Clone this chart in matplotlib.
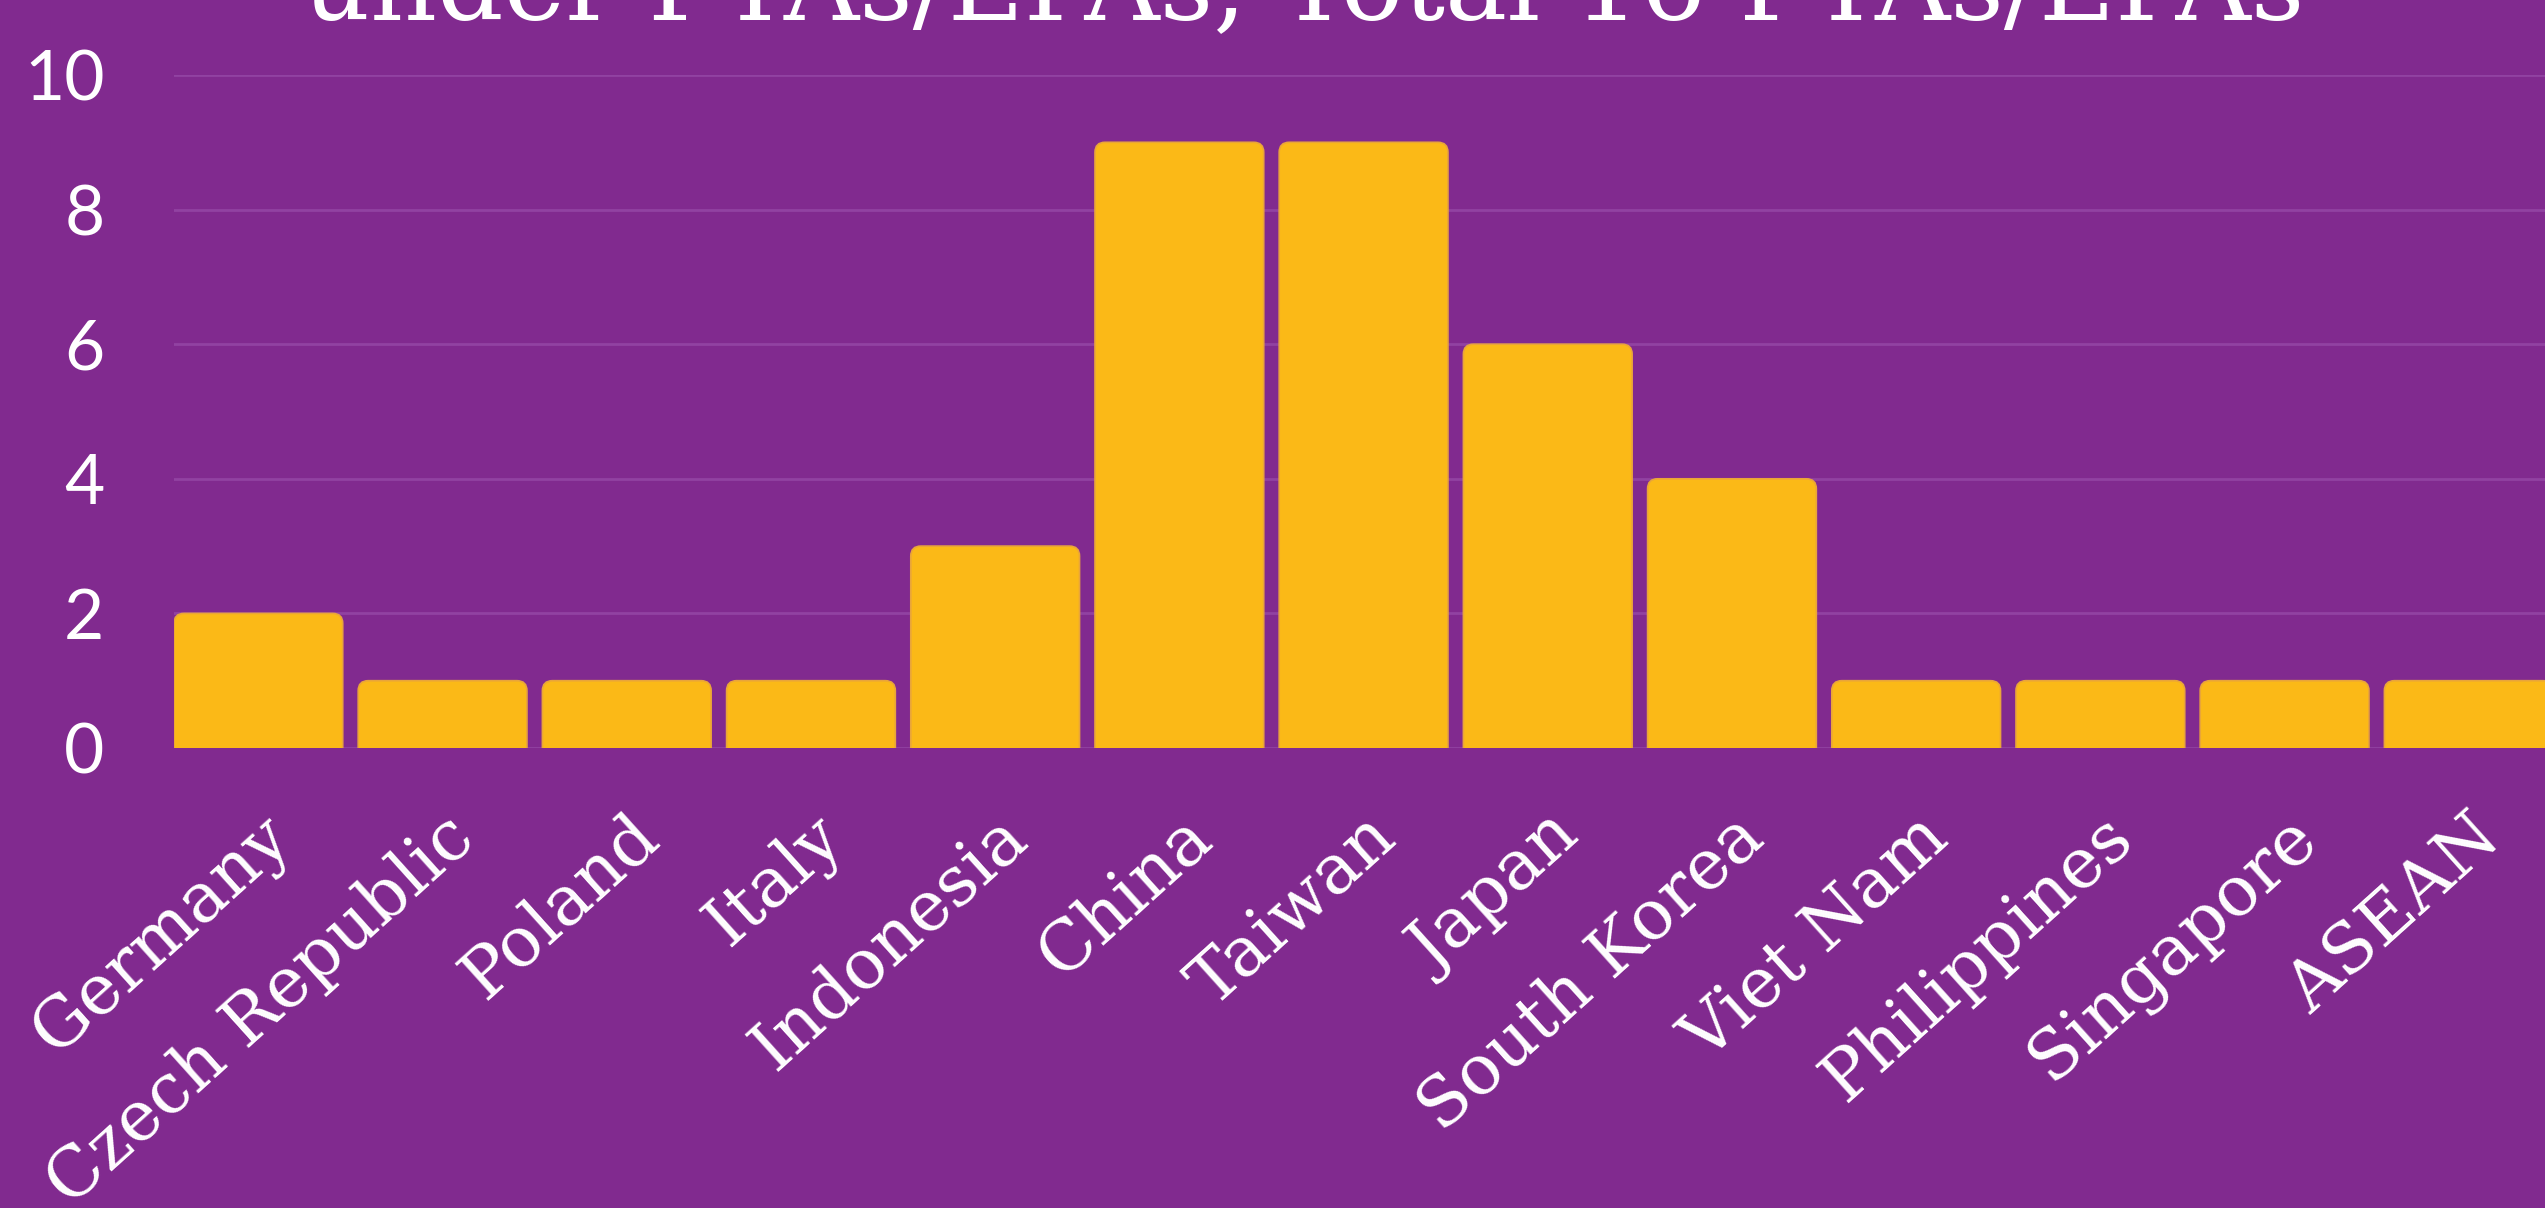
import matplotlib
matplotlib.use('Agg')
import matplotlib.pyplot as plt
import matplotlib.transforms as mtransforms
from matplotlib.patches import FancyBboxPatch

countries = ['Germany', 'Czech Republic', 'Poland', 'Italy', 'Indonesia', 'China',
             'Taiwan', 'Japan', 'South Korea', 'Viet Nam', 'Philippines',
             'Singapore', 'ASEAN']
counts = [2, 1, 1, 1, 3, 9, 9, 6, 4, 1, 1, 1, 1]
yticks = [0, 2, 4, 6, 8, 10]
title = 'under FTAs/EPAs, Total 16 FTAs/EPAs'

BG = '#812A8F'
BAR = '#FBB917'
GRID = '#9142A2'

W, H, DPI = 2545, 1208, 100
fig = plt.figure(figsize=(W / DPI, H / DPI), dpi=DPI, facecolor=BG)

# axes placed in pixels, right side runs off the canvas like the original
left, bottom, top = 174, 748, 75
ax = fig.add_axes([left / W, 1 - bottom / H, (W - left) / W, (bottom - top) / H])
ax.set_facecolor(BG)

bw = 0.916
slot = 184.2
ax.set_xlim(-bw / 2, -bw / 2 + (W - left) / slot)
ax.set_ylim(0, 10)

bars = ax.bar(range(len(counts)), counts, width=bw, color=BAR)
# swap plain rectangles for ones with rounded top corners
px_x = slot
px_y = (bottom - top) / 10
r = 10 / px_x
for b in bars:
    x0, w, h = b.get_x(), b.get_width(), b.get_height()
    b.remove()
    p = FancyBboxPatch((x0, -0.3), w, h + 0.3,
                       boxstyle='round,pad=0,rounding_size=%f' % r,
                       mutation_aspect=px_x / px_y,
                       fc=BAR, ec='#E9A53A', lw=1.2, zorder=3)
    ax.add_patch(p)

ax.set_yticks(yticks)
ax.set_yticklabels([str(t) for t in yticks], fontsize=50, color='white',
                   family='Lato')
ax.yaxis.grid(True, color=GRID, lw=2, zorder=0)
ax.set_axisbelow(True)
ax.tick_params(axis='y', length=0, pad=50)
ax.tick_params(axis='x', length=0, pad=0)
for s in ax.spines.values():
    s.set_visible(False)

ax.set_xticks(range(len(countries)))
ax.set_xticklabels(countries, rotation=42, ha='right', va='baseline',
                   rotation_mode='anchor', fontsize=50, color='white',
                   family='DejaVu Serif')
off = mtransforms.ScaledTranslation(35 / DPI, -94 / DPI, fig.dpi_scale_trans)
for lab in ax.get_xticklabels():
    lab.set_transform(ax.get_xaxis_transform() + off)
    lab.set_y(0)

fig.text(1304 / W, 1 - 20 / H, title, ha='center', va='baseline',
         fontsize=75, color='white', family='DejaVu Serif')

fig.savefig('out.png', dpi=DPI, facecolor=BG)
